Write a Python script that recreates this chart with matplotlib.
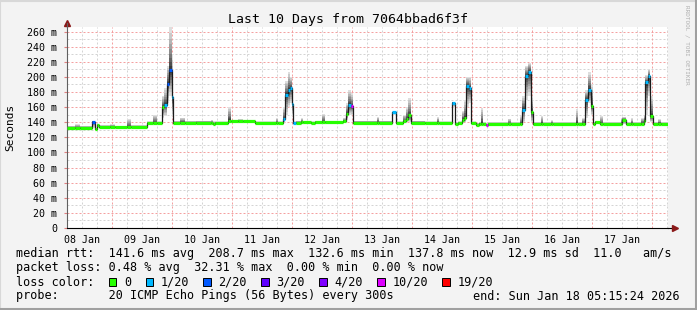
import numpy as np
import matplotlib
matplotlib.use('Agg')
import matplotlib.pyplot as plt
from matplotlib.patches import Rectangle

W, H = 697, 310
MONO = 'DejaVu Sans Mono'

# time axis: hours since 08 Jan 00:00
seg_start = [6.0, 9.2, 11.2, 16.0, 17.2, 18.0, 18.8, 23.2, 25.2, 30.0, 31.6,
             38.0, 40.4, 42.0, 43.8, 44.8, 45.8, 46.8, 47.8, 48.3, 51.2, 53.2,
             57.6, 63.6, 64.4, 65.2, 70.4, 71.6, 74.4, 76.4, 81.2, 89.6, 90.4,
             92.2, 93.2, 94.2, 95.2, 95.9, 96.4, 97.4, 99.6, 100.4, 103.6, 105.2,
             108.0, 109.2, 116.4, 117.4, 118.4, 119.4, 120.3, 130.0, 130.8, 136.1,
             137.5, 140.4, 141.4, 142.4, 143.4, 149.2, 153.8, 154.6, 160.1, 161.3,
             162.4, 163.8, 164.6, 165.6, 166.6, 167.6, 169.6, 170.8, 171.6, 172.4,
             173.6, 174.4, 182.4, 183.6, 187.2, 188.0, 189.2, 190.4, 191.6, 192.3,
             195.6, 196.4, 199.6, 200.4, 209.6, 210.4, 212.0, 213.2, 214.2, 215.4,
             216.3, 217.2, 219.2, 220.4, 227.6, 228.1, 229.5, 231.6, 232.4, 235.6,
             236.6, 237.2, 238.2, 239.2, 240.3, 242.4, 243.6]
t_end = 246.4

seg_median = [132.5, 132.5, 132.5, 140.6, 131.5, 136, 133.5, 133.5, 133.5, 133.5, 133.5,
              138.5, 138.5, 138.5, 160, 163, 190.6, 208.7, 173, 139, 139, 139,
              139.5, 139, 138, 139, 142, 141, 141, 141, 139, 139, 139,
              144, 176.5, 182, 185.7, 164.5, 138.5, 139.5, 140, 140, 138.5, 140,
              140, 140, 141, 151, 163, 161, 139.5, 139.5, 139.5, 153,
              139, 141, 144.6, 149, 139.5, 139, 139, 139, 166, 137.6,
              139, 143, 145, 188.4, 185.3, 138.5, 136.6, 138, 138, 138,
              136.3, 137.6, 137.6, 137.6, 138, 156.5, 201.6, 206.5, 153, 137.6,
              137.6, 137.6, 137.6, 137.6, 137.6, 137.6, 138, 169.8, 183, 161,
              137.6, 140, 137.6, 137.6, 137.6, 143, 138, 138, 138, 138,
              142, 192.8, 200.7, 147.7, 138, 138, 138]

seg_loss = [0, 0, 0, 2, 0, 0, 0, 0, 0, 0, 0,
            0, 0, 0, 0, 1, 2, 2, 1, 0, 0, 0,
            0, 0, 0, 0, 0, 0, 0, 0, 0, 0, 0,
            1, 1, 1, 1, 1, 1, 0, 0, 0, 0, 0,
            0, 0, 0, 0, 1, 5, 0, 0, 0, 1,
            0, 0, 0, 0, 0, 0, 0, 0, 1, 0,
            0, 0, 0, 1, 1, 0, 0, 0, 0, 0,
            5, 0, 0, 0, 0, 1, 1, 1, 0, 0,
            0, 0, 0, 0, 0, 0, 0, 1, 1, 0,
            0, 0, 0, 0, 0, 0, 0, 0, 0, 0,
            0, 1, 1, 0, 0, 0, 0]

seg_low = [131, 131, 131, 133, 130, 133, 132, 132, 132, 132, 132,
           137, 137, 137, 145, 148, 165, 175, 148, 137.5, 137.5, 137.5,
           138, 137, 137, 137.5, 139, 139, 139, 139, 137.5, 137.5, 137.5,
           139, 150, 160, 165, 148, 137, 138, 138, 138, 137, 138,
           138, 138, 139, 143, 150, 150, 138, 138, 138, 150,
           138, 139, 140, 140, 138, 137.5, 137.5, 137.5, 160, 136.5,
           137.5, 139, 140, 160, 165, 137, 135.5, 137, 137, 137,
           135, 136.5, 136.5, 136.5, 137, 140, 170, 175, 140, 136.5,
           136.5, 136.5, 136.5, 136.5, 136.5, 136.5, 137, 145, 165, 150,
           136.5, 138, 136.5, 136.5, 136.5, 137, 136.5, 136.5, 136.5, 136.5,
           138, 150, 175, 140, 136.5, 136.5, 136.5]

seg_high = [135, 137, 135, 142, 133, 138, 136, 137.5, 135.5, 144, 136,
            141, 150, 141, 175, 185, 215, 266, 230, 142, 146, 142,
            142, 143, 141, 141, 160, 143, 144.5, 143, 141, 145.5, 141,
            160, 195, 207, 200, 185, 141, 142, 145.5, 142, 141, 142,
            151, 142, 146, 165, 183, 178, 142, 147, 142, 154,
            141, 150, 160, 172, 142, 141, 147, 141, 167, 140,
            141, 155, 170, 200, 200, 141, 139, 140, 159, 140,
            138, 140, 144.6, 140, 148, 175, 215, 219, 175, 140,
            148.6, 140, 143, 140, 157.5, 140, 146, 182, 206, 190,
            140, 142, 148, 140, 146, 147, 140, 145, 140, 146,
            150, 202, 210, 175, 140, 144, 140]

loss_labels = ['0', '1/20', '2/20', '3/20', '4/20', '10/20', '19/20']
loss_colors = ['#26ff00', '#00b8ff', '#0059ff', '#5e00ff', '#7e00ff', '#dd00ff', '#ff0000']
day_labels = ['08 Jan', '09 Jan', '10 Jan', '11 Jan', '12 Jan',
              '13 Jan', '14 Jan', '15 Jan', '16 Jan', '17 Jan']

stats_rtt = 'median rtt:  141.6 ms avg  208.7 ms max  132.6 ms min  137.8 ms now  12.9 ms sd  11.0   am/s'
stats_loss = 'packet loss: 0.48 % avg  32.31 % max  0.00 % min  0.00 % now'
probe_text = 'probe:       20 ICMP Echo Pings (56 Bytes) every 300s'
end_text = 'end: Sun Jan 18 05:15:24 2026'


def fx(px):
    return px / W


def fy(py):
    return 1 - py / H


fig = plt.figure(figsize=(W / 100, H / 100), dpi=100, facecolor='#f3f3f3')
ax = fig.add_axes([fx(67), fy(228), (668 - 67) / W, (228 - 27) / H])
ax.set_facecolor('white')

t = np.array(seg_start + [t_end])
med = np.array(seg_median + [seg_median[-1]])
low = np.array(seg_low + [seg_low[-1]])
high = np.array(seg_high + [seg_high[-1]])

# grid
ax.set_xlim(6.0, t_end)
ax.set_ylim(0, 266)
for h in np.arange(6, t_end, 6):
    if h % 24:
        ax.axvline(h, color='#d4d4d4', lw=0.72, ls=(0, (2, 2)), zorder=0)
for h in np.arange(24, t_end, 24):
    ax.axvline(h, color='#f4a0a0', lw=0.72, ls=(0, (2, 2)), zorder=0.5)
for v in range(10, 266, 20):
    ax.axhline(v, color='#d4d4d4', lw=0.72, ls=(0, (2, 2)), zorder=0)
for v in range(20, 266, 20):
    ax.axhline(v, color='#f4a0a0', lw=0.72, ls=(0, (2, 2)), zorder=0.5)

# smoke
n = 10
for k in range(n):
    f = (1 - k / n) ** 1.4
    g = 0.87 - 0.72 * k / (n - 1)
    ax.fill_between(t, med - (med - low) * f, med + (high - med) * f,
                    step='post', color=(g, g, g), lw=0, zorder=1)

# median line coloured by loss
ax.step(t, med, where='post', color='#1a1a1a', lw=0.9, zorder=2)
ax.hlines(seg_median, seg_start, seg_start[1:] + [t_end],
          colors=[loss_colors[i] for i in seg_loss], lw=2.3, zorder=3)

# axes
for s in ['top', 'right']:
    ax.spines[s].set_visible(False)
ax.spines['left'].set_color('#606060')
ax.spines['bottom'].set_color('black')
ax.plot([1.0, 1.012], [0, 0], color='black', lw=0.8, transform=ax.transAxes, clip_on=False)
ax.plot([1.012], [0], marker='>', ms=4, color='#8b1a1a', transform=ax.transAxes, clip_on=False)
ax.plot([0], [1.02], marker='^', ms=4, color='#8b1a1a', transform=ax.transAxes, clip_on=False)
ax.plot([0, 0], [1.0, 1.02], color='#606060', lw=0.8, transform=ax.transAxes, clip_on=False)

ax.set_yticks(range(0, 261, 20))
ax.set_yticklabels(['0'] + ['%d m' % v for v in range(20, 261, 20)],
                   fontsize=7.2, family=MONO)
ax.set_xticks([12 + 24 * k for k in range(10)])
ax.set_xticklabels(day_labels, fontsize=7.2, family=MONO)
ax.tick_params(axis='y', length=2, color='#e08080', pad=5)
ax.tick_params(axis='x', length=0, pad=5)

# texts
fig.text(fx(348), fy(19.5), 'Last 10 Days from 7064bbad6f3f', ha='center', va='center',
         fontsize=9.5, family=MONO)
fig.text(fx(10), fy(127), 'Seconds', rotation=90, ha='center', va='center',
         fontsize=8, family=MONO)
fig.text(fx(687), fy(5), 'RRDTOOL / TOBI OETIKER', rotation=270, ha='center', va='top',
         fontsize=4.3, family=MONO, color='#b0b0b0')

fig.text(fx(16), fy(254), stats_rtt, va='center', fontsize=8.5, family=MONO)
fig.text(fx(16), fy(268), stats_loss, va='center', fontsize=8.5, family=MONO)
fig.text(fx(16), fy(282), 'loss color:', va='center', fontsize=8.5, family=MONO)
box_x = [108.7, 145.7, 203, 261, 319.3, 377.3, 442]
for bx, lab, col in zip(box_x, loss_labels, loss_colors):
    fig.add_artist(Rectangle((fx(bx), fy(286)), 7.5 / W, 8 / H, transform=fig.transFigure,
                             fc=col, ec='black', lw=0.7))
    fig.text(fx(bx + 15.2), fy(282), lab, va='center', fontsize=8.5, family=MONO)
fig.text(fx(16), fy(296), probe_text, va='center', fontsize=8.5, family=MONO)
fig.text(fx(680), fy(296), end_text, ha='right', va='center', fontsize=8.5, family=MONO)

# outer frame
fig.add_artist(plt.Line2D([fx(0), fx(0)], [0, 1], color='#d8d8d8', lw=1.5))
fig.add_artist(plt.Line2D([0, 1], [fy(0.5), fy(0.5)], color='#d8d8d8', lw=1.5))
fig.add_artist(plt.Line2D([fx(695.5), fx(695.5)], [0, 1], color='#a0a0a0', lw=2.2))
fig.add_artist(plt.Line2D([0, 1], [fy(308.5), fy(308.5)], color='#a0a0a0', lw=2.2))

fig.savefig('out.png', dpi=100, facecolor=fig.get_facecolor())
